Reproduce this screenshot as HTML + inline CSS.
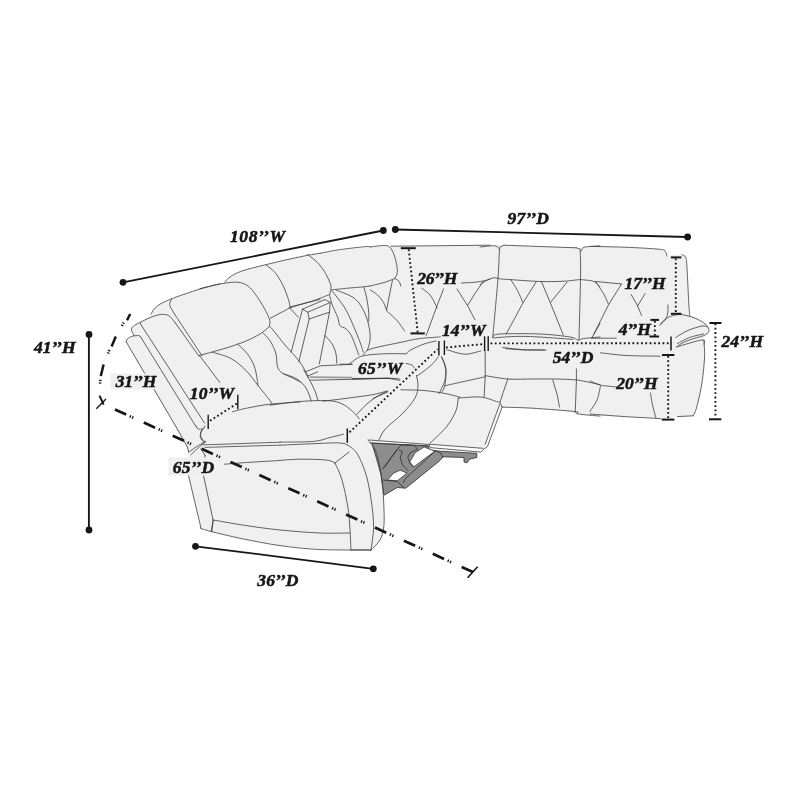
<!DOCTYPE html>
<html><head><meta charset="utf-8"><title>Sectional dimensions</title>
<style>
html,body{margin:0;padding:0;background:#fff}
svg{display:block;filter:grayscale(1)}
text{font-family:"Liberation Serif","DejaVu Serif",serif;font-weight:bold;font-style:italic;font-size:18px;fill:#161616;stroke:#161616;stroke-width:0.55px;stroke-linejoin:round}
</style></head><body>
<svg width="800" height="800" viewBox="0 0 800 800">
<rect width="800" height="800" fill="#fff"/>
<path d="M126.3,341.7L127.6,338.6L134.0,336.2L131.5,330.3L133.3,326.3L139.3,322.8L151.0,315.5L154.0,309.3L160.0,304.2L170.5,299.3L184.0,294.3L202.0,288.5L220.0,283.8L224.8,282.3L230.0,277.0L242.0,271.0L264.5,265.0L290.0,259.0L308.0,255.3L320.0,253.3L345.0,249.5L370.0,247.0L383.5,245.5L391.0,246.3L490.0,245.2L576.0,247.7L583.0,247.6L600.0,245.8L625.0,247.2L660.0,249.3L665.3,251.6L667.0,256.0L672.0,254.8L681.9,254.6L685.9,257.8L687.1,270.0L688.9,305.0L689.8,315.9L695.0,318.1L705.5,324.3L709.0,330.4L705.5,334.8L703.8,340.5L704.6,356.3L702.0,382.5L696.8,407.0L693.3,415.8L677.5,416.6L661.8,419.3L656.5,418.4L625.0,416.6L600.0,416.1L577.5,413.9L575.3,411.6L532.5,408.3L502.0,407.1L487.5,446.5L483.7,449.2L480.8,452.0L430.0,447.6L372.0,443.0L376.0,452.0L382.0,480.0L384.0,510.0L383.6,528.0L380.0,540.0L371.0,550.0L351.0,550.0L300.0,547.5L280.0,545.6L242.5,538.8L211.3,531.5L201.9,528.8L188.6,475.5L188.5,452.3L171.3,420.0L154.8,390.8L136.0,360.0Z" fill="#f0f0f0"/>
<path d="M429.0,444.2L483.0,448.3L485.2,444.2L499.9,403.8L502.0,407.0L487.5,446.5L483.7,449.2L480.8,452.0L430.0,447.6Z" fill="#fbfbfb"/>
<path d="M369.4,440.6L429.0,444.2L430.0,447.6L370.2,442.6Z" fill="#fbfbfb"/>
<path d="M371.8,443.2L428.0,445.8L429.5,450.0L440.0,451.2L476.8,453.3L476.8,457.5L470.0,459.0L467.0,462.8L464.0,462.0L464.0,457.5L443.0,456.8L440.0,460.5L408.5,486.0L405.5,488.2L397.2,487.5L384.5,495.0L383.8,495.0L380.8,474.0L376.2,457.5Z" fill="#8d8d8d" stroke="#2b2b2b" stroke-width="0.8" stroke-linejoin="round"/>
<path d="M424.2,447.0L434.8,451.2L413.8,466.8L409.7,462.0L415.2,452.7Z" fill="#fff" stroke="#2b2b2b" stroke-width="0.7" stroke-linejoin="round"/>
<path d="M393.5,473.2L400.2,470.2L407.0,473.2L397.2,480.8L387.5,480.0Z" fill="#fff" stroke="#2b2b2b" stroke-width="0.7" stroke-linejoin="round"/>
<path d="M403.2,483.0L405.5,478.5L435.5,450.8L440.8,453.0L443.0,457.5" fill="none" stroke="#2b2b2b" stroke-width="0.8" stroke-linejoin="round"/>
<path d="M401.0,444.8L382.2,469.5" fill="none" stroke="#2b2b2b" stroke-width="0.8" stroke-linejoin="round"/>
<path d="M397.2,449.2L384.5,467.2" fill="none" stroke="#2b2b2b" stroke-width="0.8" stroke-linejoin="round"/>
<path d="M401.0,444.8L414.5,445.5L417.5,449.2L410.0,453.0L407.8,457.5L410.0,463.5L413.8,467.2" fill="none" stroke="#2b2b2b" stroke-width="0.8" stroke-linejoin="round"/>
<path d="M408.5,471.0L402.5,465.0L400.2,457.5L402.5,451.5L398.8,450.0" fill="none" stroke="#2b2b2b" stroke-width="0.8" stroke-linejoin="round"/>
<path d="M383.0,480.0L397.2,481.5L404.0,487.5" fill="none" stroke="#2b2b2b" stroke-width="0.8" stroke-linejoin="round"/>
<path d="M151.0,314.2C151.5,313.4 152.5,311.0 154.0,309.3C155.5,307.6 157.2,305.9 160.0,304.2C162.8,302.5 166.5,300.9 170.5,299.2C174.5,297.6 178.8,296.1 184.0,294.3C189.2,292.5 196.0,290.2 202.0,288.4C208.0,286.7 217.0,284.6 220.0,283.8 M171.7,298.9C171.4,299.8 169.8,302.0 169.8,303.8C169.8,305.5 169.3,305.2 171.7,309.3C174.1,313.4 178.9,320.8 184.0,328.5C189.1,336.2 199.0,351.2 202.0,355.8 M134.2,335.7C133.8,334.8 131.7,331.9 131.5,330.3C131.3,328.7 132.0,327.5 133.3,326.2C134.6,325.0 136.4,324.3 139.3,322.8C142.2,321.3 147.6,318.6 151.0,317.2C154.4,315.9 157.5,315.0 160.0,314.6C162.5,314.1 164.3,314.3 166.0,314.7C167.7,315.1 168.7,315.5 170.2,316.8C171.7,318.1 174.2,321.6 175.0,322.5 M175.0,322.5L199.0,356.2 M196.0,426.0C196.2,426.4 196.5,427.7 197.2,428.2C197.9,428.8 199.1,429.3 200.2,429.3C201.2,429.3 202.7,428.8 203.5,428.2C204.3,427.7 204.8,426.4 205.0,426.0 M203.5,428.7C203.1,429.2 201.2,430.7 200.8,432.0C200.4,433.3 200.4,435.1 200.8,436.5C201.2,437.9 202.4,439.4 203.2,440.2C204.0,441.1 205.3,441.5 205.8,441.8 M205.0,441.8C203.5,442.6 198.8,445.2 196.0,447.0C193.2,448.8 189.8,451.4 188.5,452.2 M205.0,442.2C203.8,443.2 199.9,446.4 197.5,448.5C195.1,450.6 191.9,453.8 190.8,454.8 M188.5,475.5L201.2,528.8 M205.0,455.2L203.5,475.5L213.2,520.5L211.8,531.8 M202.8,444.8C205.6,444.7 212.1,444.6 220.0,444.3C227.9,444.1 240.0,443.6 250.0,443.2C260.0,442.9 275.0,442.4 280.0,442.2 M205.0,447.4C208.8,447.3 215.0,447.1 227.5,446.7C240.0,446.3 271.2,445.4 280.0,445.2 M224.5,464.2C228.8,463.9 240.8,462.9 250.0,462.3C259.2,461.7 275.0,460.8 280.0,460.5 M205.0,455.2L200.8,448.8 M200.0,288.7C202.0,288.2 208.0,286.6 212.0,285.7C216.0,284.8 219.8,283.9 224.0,283.3C228.2,282.7 233.5,281.8 237.5,282.2C241.5,282.7 244.8,283.6 248.0,286.0C251.2,288.4 254.0,292.2 257.0,296.5C260.0,300.8 263.9,307.5 266.0,311.5C268.1,315.5 269.2,318.0 269.8,320.5C270.3,323.0 269.4,325.5 269.3,326.5 M269.3,326.5C267.8,327.8 264.1,331.5 260.0,334.0C255.9,336.5 250.0,339.4 245.0,341.5C240.0,343.6 235.0,345.1 230.0,346.8C225.0,348.4 220.1,349.8 215.0,351.2C209.9,352.7 201.9,354.8 199.2,355.4 M224.8,282.2C225.6,281.4 227.1,278.9 230.0,277.0C232.9,275.1 236.2,273.0 242.0,271.0C247.8,269.0 256.5,267.0 264.5,265.0C272.5,263.0 282.8,260.6 290.0,259.0C297.2,257.4 303.0,256.2 308.0,255.2C313.0,254.3 318.0,253.6 320.0,253.3 M266.0,265.0C267.5,266.2 272.2,269.2 275.0,272.5C277.8,275.8 280.2,280.0 282.5,284.5C284.8,289.0 287.2,295.6 288.5,299.5C289.8,303.4 289.8,306.4 290.0,307.8 M290.0,307.8L270.5,318.2 M290.0,307.8C292.5,307.0 300.0,304.6 305.0,303.2C310.0,301.9 317.5,300.1 320.0,299.5 M290.0,308.2L298.2,317.2 M328.8,280.0C329.1,281.0 330.8,284.0 331.0,286.0C331.2,288.0 330.8,290.5 330.2,292.0C329.8,293.5 331.4,293.4 328.0,295.0C324.6,296.6 316.4,299.8 310.0,301.8C303.6,303.8 293.1,306.1 289.8,307.0 M331.8,289.8C334.4,289.5 342.1,288.8 347.5,288.2C352.9,287.8 360.2,287.1 364.0,286.8C367.8,286.4 369.0,286.1 370.0,286.0 M302.5,309.2L325.0,299.5L330.2,302.5L307.8,312.2L302.5,309.2 M309.2,319.0L329.5,312.2 M302.5,309.2L291.2,352.0 M307.8,312.2L309.2,319.0L298.8,361.8 M330.2,302.5L329.5,312.2L319.3,364.0 M305.5,371.8L320.5,365.8L352.0,364.3 M307.8,376.0L317.5,371.8 M352.0,379.0L388.0,378.2L398.5,380.2 M329.5,295.0C330.0,296.8 331.1,301.8 332.5,305.5C333.9,309.2 336.5,314.1 337.8,317.5C339.0,320.9 338.6,323.9 340.0,325.8C341.4,327.6 344.0,326.9 346.0,328.8C348.0,330.6 349.9,332.6 352.0,337.0C354.1,341.4 357.6,352.0 358.8,355.0 M331.8,290.5C334.1,293.8 341.6,302.2 346.0,310.0C350.4,317.8 355.1,330.0 358.0,337.0C360.9,344.0 362.4,349.5 363.2,352.0 M336.2,290.1C339.4,291.5 350.2,294.8 355.0,298.8C359.8,302.7 362.7,308.8 365.1,313.8C367.4,318.8 368.6,324.4 369.4,328.8C370.2,333.1 370.3,336.4 370.0,340.0C369.7,343.6 367.9,348.4 367.4,350.1 M364.0,287.5C364.4,289.2 365.9,294.2 366.7,298.0C367.4,301.8 368.1,306.1 368.5,310.0C368.9,313.9 368.8,319.4 368.8,321.2 M325.0,335.5C326.2,337.0 330.6,341.2 332.5,344.5C334.4,347.8 335.6,351.9 336.2,355.0C336.9,358.1 336.6,361.9 336.7,363.2 M373.0,398.5L388.0,391.8 M199.5,355.5L219.8,382.5 M232.5,411.8C235.0,411.1 241.2,409.2 247.5,408.0C253.8,406.8 261.2,405.2 270.0,404.2C278.8,403.2 295.0,402.4 300.0,402.0 M202.5,429.8C202.1,430.6 200.4,433.2 200.2,435.0C200.1,436.8 201.0,439.0 201.8,440.2C202.5,441.5 204.2,442.1 204.8,442.5 M237.8,344.2C239.4,345.9 244.8,350.4 247.5,354.0C250.2,357.6 252.6,361.8 254.2,366.0C255.9,370.2 256.6,376.2 257.2,379.5C257.9,382.8 257.9,384.5 258.0,385.5 M212.2,352.2C215.4,353.2 225.4,355.4 231.0,358.5C236.6,361.6 241.5,366.0 246.0,370.5C250.5,375.0 254.0,380.5 258.0,385.5C262.0,390.5 267.7,397.4 270.0,400.5C272.3,403.6 271.5,403.6 271.8,404.2 M263.2,333.0C264.5,334.5 268.6,338.5 270.8,342.0C272.9,345.5 274.9,349.9 276.0,354.0C277.1,358.1 276.5,363.6 277.5,366.8C278.5,369.9 279.5,370.9 282.0,372.8C284.5,374.6 289.5,376.5 292.5,378.0C295.5,379.5 298.8,381.1 300.0,381.8 M269.7,326.6C270.2,327.1 270.4,326.9 273.0,330.0C275.6,333.1 280.5,339.6 285.0,345.0C289.5,350.4 296.1,356.8 300.0,362.2C303.9,367.7 307.1,375.0 308.5,377.6 M270.0,405.2C273.8,404.8 285.5,403.0 292.5,402.2C299.5,401.5 305.8,401.0 312.0,400.8C318.2,400.5 325.0,400.2 330.0,400.8C335.0,401.2 338.2,402.0 342.0,403.8C345.8,405.5 349.6,408.8 352.5,411.2C355.4,413.8 358.1,417.5 359.2,418.8 M322.5,401.2C326.2,400.8 336.8,399.6 345.0,398.5C353.2,397.4 365.0,396.0 372.0,394.8C379.0,393.5 384.5,391.6 387.0,391.0 M357.0,414.2C358.5,412.7 362.9,407.6 366.0,404.8C369.1,402.0 372.2,399.6 375.8,397.3C379.2,395.0 385.1,392.2 387.0,391.1 M283.5,373.8C285.8,374.6 293.2,376.6 297.0,379.0C300.8,381.4 303.6,384.4 306.0,388.0C308.4,391.6 310.4,398.6 311.2,400.8 M303.8,370.0C304.6,371.5 307.1,375.5 309.0,379.0C310.9,382.5 313.5,387.4 315.0,391.0C316.5,394.6 317.5,399.1 318.0,400.8 M280.1,442.1C285.6,442.0 305.2,442.2 313.5,441.4C321.8,440.6 325.0,438.7 330.0,437.5C335.0,436.3 341.2,434.8 343.5,434.2 M310.5,380.2L354.0,379.3L390.0,378.2 M369.0,440.0L428.0,444.4 M370.0,247.0C372.2,246.8 380.2,245.5 383.5,245.5C386.8,245.5 387.8,245.5 389.5,247.0C391.2,248.5 392.8,251.2 394.0,254.5C395.2,257.8 396.5,263.2 397.0,266.5C397.5,269.8 397.4,272.0 397.0,274.0C396.6,276.0 395.1,277.8 394.8,278.5 M394.8,278.5C393.1,279.1 389.1,281.0 385.0,282.2C380.9,283.5 372.5,285.4 370.0,286.0 M394.8,278.5C395.5,279.0 398.2,280.2 399.2,281.5C400.2,282.8 400.5,285.2 400.8,286.0 M391.0,246.2L490.0,245.2 M421.8,288.2C423.1,289.4 427.6,292.1 430.0,295.0C432.4,297.9 434.9,303.2 436.0,305.5C437.1,307.8 436.6,308.0 436.8,308.5 M443.5,289.0L436.0,308.5L426.2,335.5 M457.0,289.0L467.5,305.5L475.0,319.8 M461.5,283.0C463.8,282.9 471.2,282.6 475.0,282.2C478.8,281.9 481.5,281.2 484.0,280.8C486.5,280.2 489.0,279.5 490.0,279.2 M483.2,281.5L475.0,293.5L467.5,305.5 M370.0,289.8C371.2,290.6 375.2,292.9 377.5,295.0C379.8,297.1 382.0,300.0 383.5,302.5C385.0,305.0 386.0,308.8 386.5,310.0 M386.5,310.8C388.2,312.4 394.0,317.1 397.0,320.5C400.0,323.9 403.2,329.2 404.5,331.0 M392.5,280.0L386.5,310.0 M492.8,337.0C493.6,327.2 496.9,293.0 498.0,278.5C499.1,264.0 499.0,255.3 499.5,250.0C500.0,244.7 500.2,247.5 501.0,246.7C501.8,245.9 503.5,245.4 504.0,245.2 M504.0,245.2L576.0,247.8 M576.0,247.8C576.5,247.9 578.3,248.2 579.0,248.8C579.7,249.4 580.0,246.6 580.2,251.5C580.5,256.4 580.7,263.8 580.5,278.5C580.3,293.2 579.2,329.8 579.0,340.0 M480.0,247.0C482.5,246.8 491.8,245.4 495.0,245.8C498.2,246.2 498.5,248.7 499.2,249.2 M580.8,251.5C581.0,251.1 581.6,249.6 582.3,248.8C583.0,248.1 582.0,247.5 585.0,247.0C588.0,246.5 597.5,246.0 600.0,245.8 M480.0,284.5C481.5,283.6 486.5,280.4 489.0,279.2C491.5,278.1 493.2,277.8 495.0,277.8C496.8,277.7 497.0,278.5 499.5,278.8C502.0,279.1 503.2,279.1 510.0,279.6C516.8,280.0 531.0,281.2 540.0,281.5C549.0,281.8 557.5,281.5 564.0,281.2C570.5,280.9 575.5,279.9 579.0,279.7C582.5,279.5 582.5,279.7 585.0,280.0C587.5,280.3 591.5,280.4 594.0,281.5C596.5,282.6 599.0,285.9 600.0,286.8 M510.8,279.7C511.9,281.5 515.5,286.7 517.5,290.5C519.5,294.3 521.9,300.5 522.8,302.5 M536.2,281.8L522.8,303.2L506.2,334.0 M541.5,281.8L550.5,303.2L563.2,334.8 M567.0,282.2L550.5,302.5 M492.8,337.0C493.9,336.5 491.6,334.5 499.5,334.0C507.4,333.5 528.2,333.5 540.0,334.0C551.8,334.5 563.6,336.0 570.0,337.0C576.4,338.0 576.0,339.8 578.2,340.0C580.5,340.2 579.9,339.0 583.5,338.5C587.1,338.0 597.2,337.2 600.0,337.0 M492.8,337.9C498.1,337.6 511.6,336.1 525.0,336.4C538.4,336.6 565.0,338.9 573.0,339.4 M502.5,347.5C506.2,347.9 518.0,349.4 525.0,349.8C532.0,350.1 541.2,349.8 544.5,349.8 M594.0,334.0L600.0,323.5 M590.0,246.4C595.8,246.5 613.3,246.8 625.0,247.2C636.7,247.7 653.3,248.6 660.0,249.3C666.7,250.1 664.1,250.5 665.2,251.6C666.4,252.7 666.7,255.3 667.0,256.0 M667.9,305.0C667.9,306.2 668.1,310.0 667.9,312.0C667.7,314.0 667.2,315.8 666.6,317.2C666.1,318.7 665.5,319.4 664.4,320.8C663.3,322.1 660.7,324.4 660.0,325.1 M681.9,254.6C682.5,255.1 685.0,255.2 685.9,257.8C686.8,260.3 686.6,262.1 687.1,270.0C687.6,277.9 688.4,297.4 688.9,305.0C689.3,312.6 689.6,314.0 689.8,315.9 M660.0,325.1C660.6,324.4 661.8,322.2 663.5,320.8C665.2,319.3 667.6,317.4 670.5,316.4C673.4,315.4 676.9,314.3 681.0,314.6C685.1,314.9 690.9,316.5 695.0,318.1C699.1,319.7 703.2,322.2 705.5,324.2C707.8,326.3 709.0,328.6 709.0,330.4C709.0,332.1 707.8,333.4 705.5,334.8C703.2,336.1 698.5,337.1 695.0,338.2C691.5,339.4 687.6,340.3 684.5,341.8C681.4,343.2 677.9,346.1 676.6,347.0 M675.8,337.4C677.8,336.2 683.6,332.3 688.0,330.4C692.4,328.5 698.8,326.6 702.0,326.0C705.2,325.4 706.4,326.7 707.2,326.9 M677.5,343.5C679.5,342.5 685.4,339.0 689.8,337.4C694.1,335.8 701.4,334.5 703.8,333.9 M595.2,281.4L621.5,284.0 M621.5,284.0L608.4,305.0L591.8,338.2 M596.1,282.2C597.4,284.3 602.0,290.9 604.0,294.5C606.0,298.1 607.6,302.5 608.4,304.1 M631.1,294.5L637.2,305.0L641.6,315.5 M645.1,293.6L637.6,305.9 M591.8,338.2L616.2,338.2 M676.6,347.0C680.9,345.8 697.4,340.4 702.0,340.0C706.6,339.6 703.8,343.6 704.1,344.4 M703.8,340.5C703.9,343.1 704.9,349.2 704.6,356.2C704.3,363.2 703.3,374.0 702.0,382.5C700.7,391.0 698.2,401.5 696.8,407.0C695.3,412.5 693.8,414.3 693.2,415.8 M693.2,415.8L677.5,416.6 M590.0,414.0C595.8,414.4 613.9,415.9 625.0,416.6C636.1,417.4 650.4,417.9 656.5,418.4C662.6,418.8 660.9,419.1 661.8,419.2 M590.0,380.8C591.8,381.5 596.1,384.1 600.5,385.1C604.9,386.1 613.6,386.6 616.2,386.9 M600.5,386.0C599.9,388.3 598.8,395.8 597.0,400.0C595.2,404.2 591.2,409.5 590.0,411.4 M650.4,393.0C650.8,395.3 652.0,402.8 653.0,407.0C654.0,411.2 655.6,416.5 656.1,418.4 M600.5,352.8C604.6,353.2 615.1,354.8 625.0,355.4C634.9,356.0 654.2,356.1 660.0,356.2 M485.2,350.9L485.2,376.8L484.1,397.0 M441.4,356.5C442.1,358.8 445.3,365.1 445.9,370.0C446.4,374.9 445.5,382.0 444.8,385.8C444.0,389.5 441.9,391.4 441.4,392.5 M444.8,385.8C448.1,385.0 458.2,382.8 465.0,381.2C471.8,379.8 481.9,377.5 485.2,376.8 M485.2,375.6C489.0,376.2 499.9,378.4 507.8,379.0C515.6,379.6 524.6,379.0 532.5,379.0C540.4,379.0 547.5,378.8 555.0,379.0C562.5,379.2 570.0,379.2 577.5,380.1C585.0,381.1 596.2,383.9 600.0,384.6 M507.8,379.0L503.2,392.5L499.9,402.6 M552.8,380.1L557.2,394.8L559.5,407.1 M576.4,368.9L576.4,381.2L575.2,412.8 M502.1,407.1C507.2,407.3 520.3,407.5 532.5,408.2C544.7,409.0 567.8,410.7 575.2,411.6C582.8,412.6 573.4,413.1 577.5,413.9C581.6,414.6 596.2,415.8 600.0,416.1 M447.0,349.8C450.0,350.5 459.4,354.1 465.0,354.2C470.6,354.4 478.1,351.4 480.8,350.9 M505.5,348.6C508.1,348.8 514.5,349.5 521.2,349.8C528.0,350.0 541.9,350.1 546.0,350.2 M458.2,398.1C462.0,397.9 474.4,396.4 480.8,397.0C487.1,397.6 493.3,400.6 496.5,401.5C499.7,402.4 498.9,401.7 499.9,402.6C500.8,403.6 501.8,406.4 502.1,407.1 M458.2,398.1C457.9,400.2 457.9,405.8 456.0,410.5C454.1,415.2 451.3,420.8 447.0,426.2C442.7,431.7 432.9,440.3 430.1,443.1 M429.0,444.2L483.0,448.3 M499.9,403.8L485.2,444.2 M502.1,407.1L487.5,446.5L483.7,449.2L480.8,452.1L430.1,447.6L429.0,444.2 M363.2,355.2C364.4,354.2 363.9,351.4 370.0,349.2C376.1,347.1 392.0,344.2 400.0,342.5C408.0,340.8 412.0,339.6 418.0,338.8C424.0,337.9 432.2,337.6 436.0,337.2C439.8,336.9 439.8,336.9 440.5,336.8 M436.0,341.0C434.0,341.5 428.0,342.6 424.0,344.0C420.0,345.4 414.9,347.8 412.0,349.2C409.1,350.8 407.6,352.4 406.8,353.0 M406.8,353.8C403.1,353.8 392.4,353.4 385.0,353.8C377.6,354.1 368.0,354.6 362.5,356.0C357.0,357.4 354.2,360.6 352.0,362.0C349.8,363.4 349.5,363.9 349.0,364.2 M340.0,364.2L352.0,364.2 M352.8,378.5C359.9,378.5 387.8,378.1 395.5,378.5C403.2,378.9 398.6,380.4 399.2,380.8 M406.0,363.5C407.0,363.8 410.6,364.2 412.0,365.0C413.4,365.8 413.9,367.5 414.2,368.0 M400.8,389.8C404.6,389.9 416.6,389.9 424.0,390.5C431.4,391.1 439.0,392.4 445.0,393.5C451.0,394.6 457.5,396.6 460.0,397.2 M416.5,375.5C416.8,377.2 418.2,382.2 418.0,386.0C417.8,389.8 417.5,393.5 415.0,398.0C412.5,402.5 408.0,407.8 403.0,413.0C398.0,418.2 389.0,425.0 385.0,429.5C381.0,434.0 380.0,438.2 379.0,440.0 M416.5,376.2C417.8,375.4 421.2,373.1 424.0,371.0C426.8,368.9 430.6,365.9 433.0,363.5C435.4,361.1 437.4,357.9 438.2,356.8 M442.0,357.5C442.6,359.2 445.2,364.2 445.8,368.0C446.2,371.8 445.6,376.8 445.0,380.0C444.4,383.2 443.0,385.2 442.0,387.5C441.0,389.8 439.5,392.5 439.0,393.5 M280.0,445.2C286.7,444.9 310.0,443.8 320.0,443.4C330.0,443.0 335.2,442.6 340.0,443.0C344.8,443.4 346.0,444.0 349.0,446.0C352.0,448.0 355.0,449.7 358.0,455.0C361.0,460.3 364.7,469.5 367.0,478.0C369.3,486.5 370.9,498.0 372.0,506.0C373.1,514.0 373.5,520.3 373.6,526.0C373.7,531.7 372.8,536.0 372.4,540.0C372.0,544.0 371.2,548.3 371.0,550.0 M368.0,440.0C369.3,442.0 373.7,445.3 376.0,452.0C378.3,458.7 380.7,470.3 382.0,480.0C383.3,489.7 383.7,502.0 384.0,510.0C384.3,518.0 384.3,523.0 383.6,528.0C382.9,533.0 382.1,536.3 380.0,540.0C377.9,543.7 372.5,548.3 371.0,550.0 M280.0,460.4C283.3,460.2 292.3,459.3 300.0,459.2C307.7,459.1 320.2,459.4 326.0,460.0C331.8,460.6 333.5,462.5 335.0,463.0 M335.0,463.0L349.0,452.0 M335.0,463.0C336.2,465.8 339.8,472.5 342.0,480.0C344.2,487.5 346.7,499.7 348.0,508.0C349.3,516.3 349.5,523.0 350.0,530.0C350.5,537.0 350.8,546.7 351.0,550.0 M351.0,550.0L371.0,550.0 M200.6,527.5C200.8,527.7 200.1,528.1 201.9,528.8C203.6,529.4 204.5,529.8 211.2,531.5C218.0,533.2 231.0,536.4 242.5,538.8C254.0,541.1 267.1,543.8 280.0,545.6C292.9,547.4 304.8,548.8 320.0,549.5C335.2,550.2 362.7,549.9 371.2,550.0 M213.1,520.0L211.2,531.5 M213.1,520.0C218.0,520.8 231.4,523.3 242.5,525.0C253.6,526.7 267.1,528.7 280.0,530.0C292.9,531.3 308.3,532.5 320.0,533.0C331.7,533.5 345.0,533.0 350.0,533.0 M126.2,341.9C126.5,341.4 126.5,339.7 127.5,338.8C128.5,337.8 130.6,336.8 132.5,336.2C134.4,335.7 137.4,335.5 138.8,335.6C140.1,335.7 140.3,336.7 140.6,336.9 M370.2,442.8L429.5,446.2 M320.0,253.3C322.9,252.8 330.4,251.1 337.5,250.0C344.6,248.9 357.1,247.5 362.5,246.9C367.9,246.3 368.8,246.7 370.0,246.6 M307.5,254.4C309.2,255.8 314.6,259.5 317.5,262.5C320.4,265.5 323.1,269.6 325.0,272.5C326.9,275.4 328.1,278.8 328.8,280.0 M126.2,341.9L175.0,425.0L187.5,447.0L188.6,452.3 M140.6,336.9L195.0,425.0L196.0,426.5 M140.2,322.8L141.2,325.0L188.8,398.8L204.5,423.0" fill="none" stroke="#3c3c3c" stroke-width="0.8" stroke-linecap="round" stroke-linejoin="round"/>
<rect x="110.5" y="373.5" width="47.3" height="15.8" fill="#efefef"/>
<rect x="168.3" y="457.5" width="47.2" height="18.0" fill="#efefef"/>
<line x1="309.8" y1="377.2" x2="352.5" y2="377.6" stroke="#9a9a9a" stroke-width="1.8"/>
<line x1="123.0" y1="282.3" x2="383.3" y2="230.5" stroke="#161616" stroke-width="1.8" />
<circle cx="123.0" cy="282.3" r="3.4" fill="#161616"/>
<circle cx="383.3" cy="230.5" r="3.4" fill="#161616"/>
<line x1="395.3" y1="229.5" x2="687.6" y2="237.0" stroke="#161616" stroke-width="1.8" />
<circle cx="395.3" cy="229.5" r="3.4" fill="#161616"/>
<circle cx="687.6" cy="237.0" r="3.4" fill="#161616"/>
<line x1="88.9" y1="334.5" x2="88.9" y2="530.0" stroke="#161616" stroke-width="1.9" />
<circle cx="89.0" cy="334.5" r="3.4" fill="#161616"/>
<circle cx="89.0" cy="530.0" r="3.4" fill="#161616"/>
<line x1="195.5" y1="546.3" x2="373.3" y2="568.8" stroke="#161616" stroke-width="1.8" />
<circle cx="195.5" cy="546.3" r="3.4" fill="#161616"/>
<circle cx="373.3" cy="568.8" r="3.4" fill="#161616"/>
<line x1="130.2" y1="314.0" x2="127.0" y2="320.3" stroke="#161616" stroke-width="2.5" />
<line x1="115.8" y1="336.4" x2="111.6" y2="346.5" stroke="#161616" stroke-width="2.5" />
<line x1="103.6" y1="364.5" x2="100.8" y2="376.0" stroke="#161616" stroke-width="2.5" />
<line x1="123.7" y1="322.6" x2="123.1" y2="323.7" stroke="#161616" stroke-width="2.6" />
<line x1="122.5" y1="324.9" x2="121.9" y2="326.0" stroke="#161616" stroke-width="2.6" />
<line x1="109.4" y1="350.0" x2="108.9" y2="351.2" stroke="#161616" stroke-width="2.6" />
<line x1="108.5" y1="352.4" x2="108.0" y2="353.6" stroke="#161616" stroke-width="2.6" />
<line x1="100.4" y1="379.9" x2="100.3" y2="381.2" stroke="#161616" stroke-width="2.6" />
<line x1="100.1" y1="382.4" x2="100.0" y2="383.7" stroke="#161616" stroke-width="2.6" />
<line x1="96.3" y1="408.7" x2="106.0" y2="399.0" stroke="#161616" stroke-width="1.3" />
<line x1="99.5" y1="395.7" x2="103.6" y2="404.6" stroke="#161616" stroke-width="2" />
<line x1="114.9" y1="409.4" x2="473.0" y2="572.1" stroke="#161616" stroke-width="2.7" stroke-dasharray="12.4 3.95 1.3 1.3 1.3 11.49"/>
<line x1="467.6" y1="577.8" x2="477.6" y2="566.8" stroke="#161616" stroke-width="1.6" />
<text x="230.0" y="242.0" textLength="55.0" style="font-size:17.5px">108’’W</text>
<text x="507.5" y="224.1" textLength="41.5" style="font-size:17.5px">97’’D</text>
<text x="34.0" y="352.6" textLength="41.5" style="font-size:17.5px">41’’H</text>
<text x="257.3" y="585.8" textLength="41.0" style="font-size:17.5px">36’’D</text>
<text x="115.8" y="387.0" textLength="40.5" style="font-size:17.5px">31’’H</text>
<text x="172.8" y="472.5" textLength="41.3" style="font-size:17.5px">65’’D</text>
<text x="189.8" y="399.3" textLength="44.3" style="font-size:17.5px">10’’W</text>
<text x="358.0" y="374.3" textLength="44.3" style="font-size:17.5px">65’’W</text>
<text x="417.3" y="284.2" textLength="40.0" style="font-size:17.5px">26’’H</text>
<text x="442.0" y="335.8" textLength="43.5" style="font-size:17.5px">14’’W</text>
<text x="552.8" y="362.8" textLength="40.5" style="font-size:17.5px">54’’D</text>
<text x="624.5" y="289.3" textLength="41.0" style="font-size:17.5px">17’’H</text>
<text x="618.8" y="334.6" textLength="32.0" style="font-size:17.5px">4’’H</text>
<text x="616.3" y="389.2" textLength="41.2" style="font-size:17.5px">20’’H</text>
<text x="721.5" y="346.6" textLength="41.5" style="font-size:17.5px">24’’H</text>
<line x1="208.2" y1="414.8" x2="208.2" y2="429.0" stroke="#161616" stroke-width="1.4" />
<line x1="237.8" y1="394.8" x2="237.8" y2="409.2" stroke="#161616" stroke-width="1.4" />
<line x1="210.0" y1="420.8" x2="237.0" y2="403.5" stroke="#161616" stroke-width="1.9" stroke-dasharray="1.8 2.5"/>
<line x1="347.3" y1="428.5" x2="347.3" y2="442.8" stroke="#161616" stroke-width="1.5" />
<line x1="349.5" y1="432.3" x2="437.5" y2="349.3" stroke="#161616" stroke-width="1.9" stroke-dasharray="1.8 2.5"/>
<line x1="438.9" y1="341.0" x2="438.9" y2="355.5" stroke="#161616" stroke-width="1.4" />
<line x1="444.4" y1="340.5" x2="444.4" y2="355.0" stroke="#161616" stroke-width="1.4" />
<line x1="484.6" y1="336.3" x2="484.6" y2="351.0" stroke="#161616" stroke-width="1.4" />
<line x1="488.2" y1="336.3" x2="488.2" y2="351.0" stroke="#161616" stroke-width="1.4" />
<line x1="446.0" y1="347.5" x2="483.0" y2="344.1" stroke="#161616" stroke-width="1.9" stroke-dasharray="1.8 2.5"/>
<line x1="490.5" y1="343.4" x2="670.0" y2="343.2" stroke="#161616" stroke-width="1.9" stroke-dasharray="1.8 2.5"/>
<line x1="671.0" y1="336.5" x2="671.0" y2="350.5" stroke="#161616" stroke-width="1.5" />
<line x1="400.8" y1="248.2" x2="415.8" y2="248.2" stroke="#161616" stroke-width="2" />
<line x1="410.5" y1="333.4" x2="424.8" y2="333.4" stroke="#161616" stroke-width="2" />
<line x1="408.7" y1="249.3" x2="417.7" y2="332.5" stroke="#161616" stroke-width="1.9" stroke-dasharray="1.8 2.5"/>
<line x1="670.9" y1="257.4" x2="681.4" y2="257.4" stroke="#161616" stroke-width="2" />
<line x1="670.9" y1="313.8" x2="681.4" y2="313.8" stroke="#161616" stroke-width="2" />
<line x1="675.8" y1="258.5" x2="675.8" y2="313.0" stroke="#161616" stroke-width="1.9" stroke-dasharray="1.8 2.5"/>
<line x1="650.4" y1="319.9" x2="659.0" y2="319.9" stroke="#161616" stroke-width="2" />
<line x1="649.5" y1="336.5" x2="659.0" y2="336.5" stroke="#161616" stroke-width="2" />
<line x1="654.8" y1="321.0" x2="654.8" y2="336.0" stroke="#161616" stroke-width="1.9" stroke-dasharray="1.8 2.5"/>
<line x1="662.0" y1="355.0" x2="674.4" y2="355.0" stroke="#161616" stroke-width="2" />
<line x1="662.0" y1="419.6" x2="674.4" y2="419.6" stroke="#161616" stroke-width="2" />
<line x1="668.2" y1="356.0" x2="668.2" y2="419.0" stroke="#161616" stroke-width="1.9" stroke-dasharray="1.8 2.5"/>
<line x1="709.5" y1="323.0" x2="721.5" y2="323.0" stroke="#161616" stroke-width="2" />
<line x1="709.0" y1="419.3" x2="721.3" y2="419.3" stroke="#161616" stroke-width="2" />
<line x1="715.4" y1="323.5" x2="715.4" y2="418.5" stroke="#161616" stroke-width="1.9" stroke-dasharray="1.8 2.5"/>
</svg>
</body></html>
